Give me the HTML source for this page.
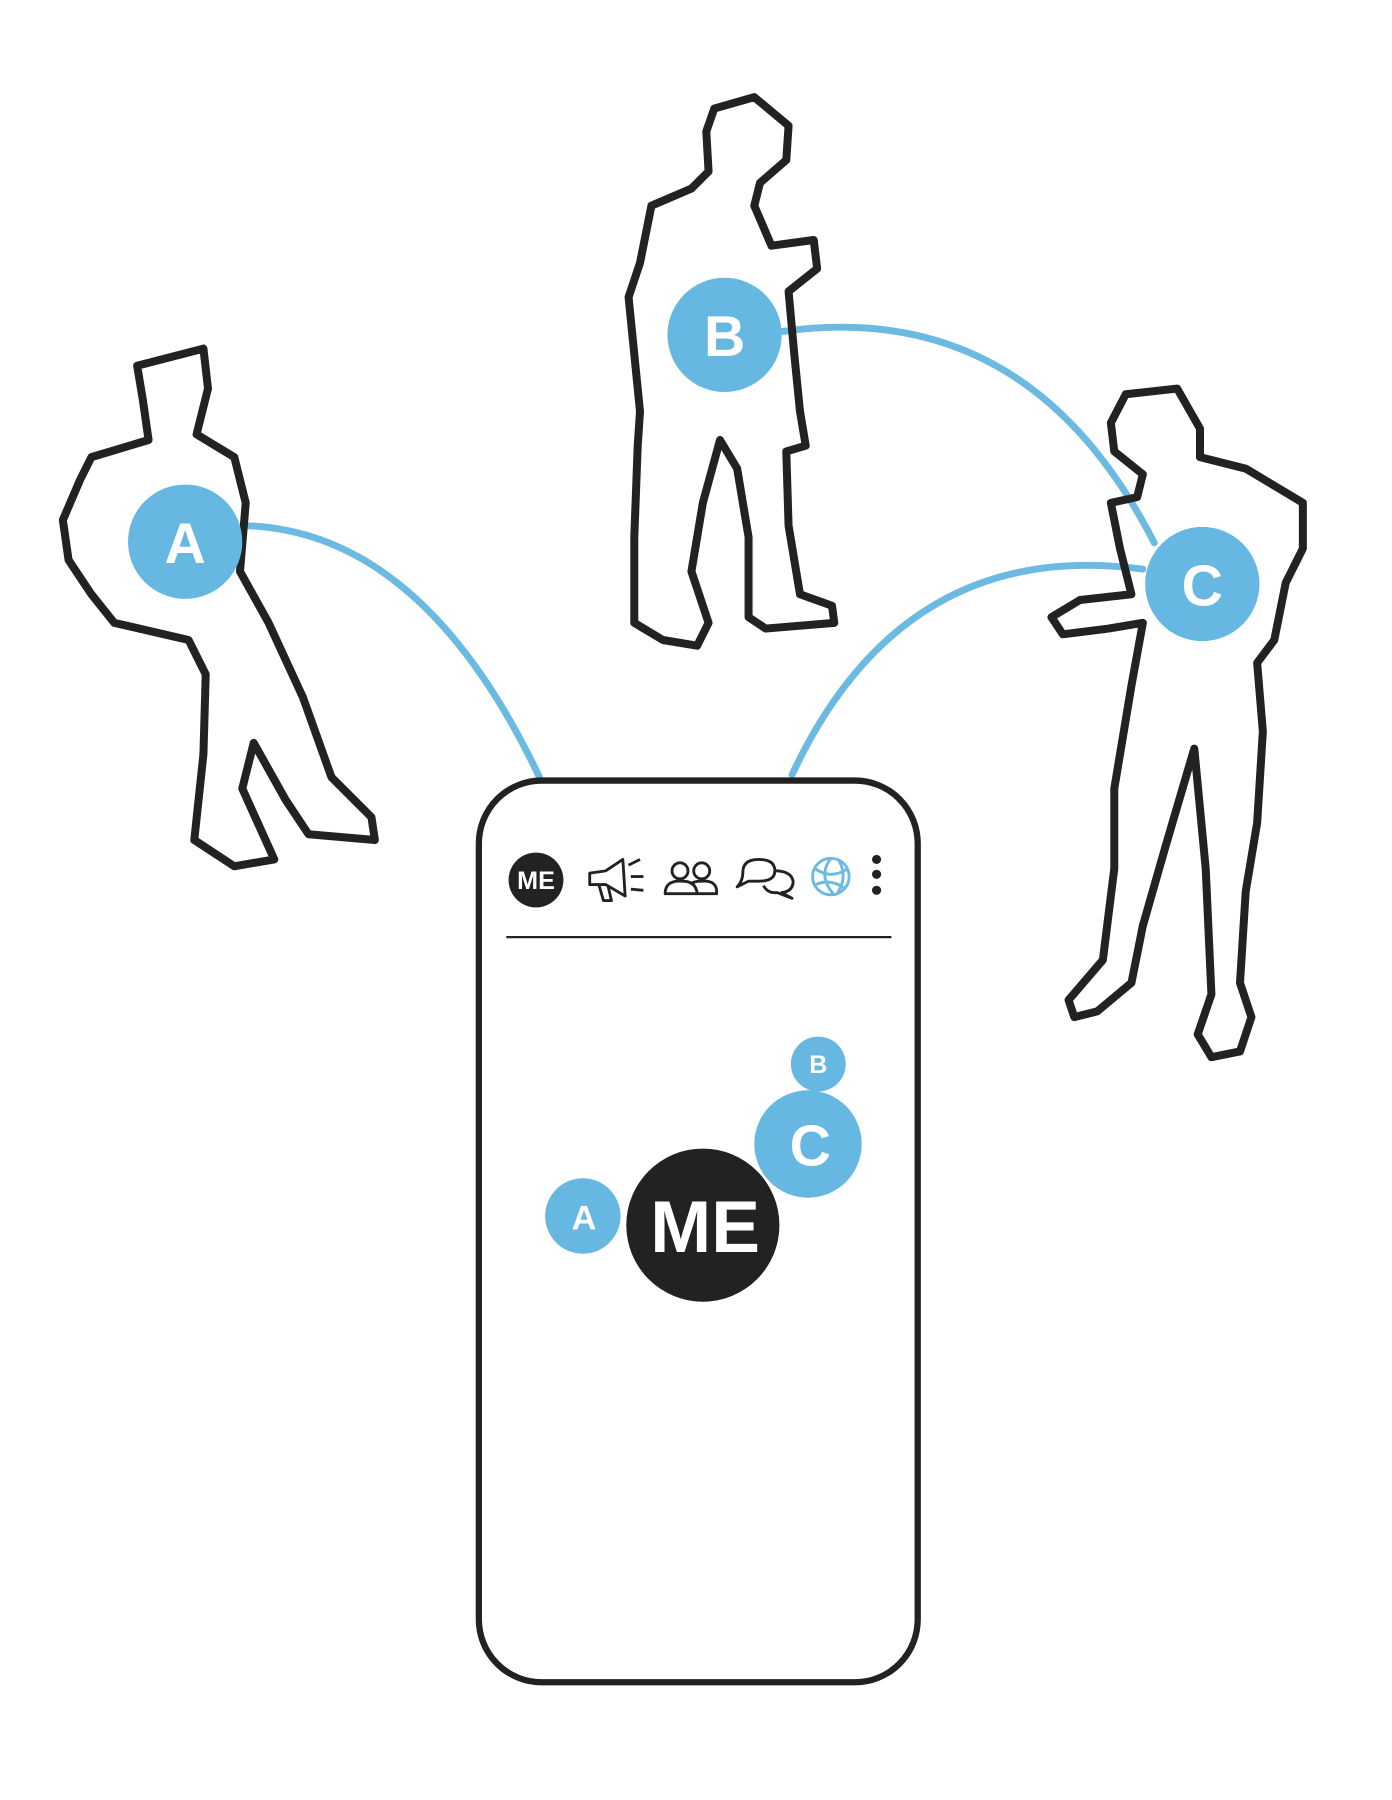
<!DOCTYPE html>
<html><head><meta charset="utf-8"><style>
html,body{margin:0;padding:0;background:#fff;}
svg{display:block}
text{font-family:"Liberation Sans",sans-serif;font-weight:bold;fill:#fff;text-anchor:middle;dominant-baseline:central}
</style></head><body>
<svg width="1392" height="1800" viewBox="0 0 1218 1575" xmlns="http://www.w3.org/2000/svg">
<g fill="none" stroke="#6cb9e2" stroke-width="6" stroke-linecap="round">
<path d="M215,460 Q370,465 472,680"/>
<path d="M685,290 Q900,260 1010,475"/>
<path d="M1000,498 Q790,470 693,678"/>
</g>
<g fill="none" stroke="#222" stroke-width="7" stroke-linejoin="round">
<path d="M120,320 L178,305 L182,340 L172,380 L205,400 L215,440 L210,500 L235,545 L265,610 L290,680 L325,715 L328,735 L270,730 L250,700 L222,650 L212,690 L240,752 L205,758 L170,735 L178,660 L180,590 L165,560 L100,545 L80,520 L60,490 L55,455 L70,420 L80,400 L130,385 L125,350 Z"/>
<path d="M625,95 L660,85 L690,110 L688,140 L665,160 L660,180 L675,215 L712,210 L715,235 L690,255 L695,310 L700,360 L705,390 L688,395 L690,460 L700,520 L728,530 L730,545 L670,550 L655,540 L655,470 L645,410 L630,385 L615,440 L605,500 L620,545 L610,565 L580,560 L555,545 L555,470 L558,390 L560,360 L555,310 L550,260 L560,230 L570,180 L605,165 L620,150 L618,115 Z"/>
<path d="M985,345 L1030,340 L1050,375 L1050,400 L1090,410 L1140,440 L1140,480 L1125,510 L1115,560 L1100,580 L1105,640 L1100,720 L1090,780 L1085,860 L1095,890 L1085,920 L1060,925 L1048,905 L1060,870 L1055,760 L1045,655 L1020,740 L1000,810 L990,860 L960,885 L940,890 L935,875 L965,840 L975,760 L975,690 L990,600 L1000,545 L970,550 L930,555 L920,540 L945,525 L990,520 L980,480 L972,440 L995,435 L1000,415 L975,395 L972,370 Z"/>
<rect x="419" y="683" width="384" height="789" rx="55" stroke-width="5.5"/>
</g>
<g fill="#66b8e2">
<circle cx="162" cy="474" r="50"/><circle cx="634" cy="293" r="50"/><circle cx="1052" cy="511" r="50"/>
<circle cx="716" cy="931" r="24"/><circle cx="707" cy="1001" r="47"/><circle cx="510" cy="1064" r="33"/>
</g>
<text x="162" y="476" font-size="50">A</text>
<text x="634" y="295" font-size="50">B</text>
<text x="1052" y="513" font-size="50">C</text>
<circle cx="615" cy="1072" r="67" fill="#222"/>
<text x="617" y="1074" font-size="64" textLength="96">ME</text>
<text x="716" y="932" font-size="22">B</text>
<text x="709" y="1003" font-size="50">C</text>
<text x="511" y="1066" font-size="30">A</text>
<circle cx="469" cy="770" r="24" fill="#222"/>
<text x="469" y="771" font-size="22">ME</text>
<g fill="none" stroke="#222" stroke-width="2.5" stroke-linejoin="round">
<path d="M516,764 L530,762 L545,752 L547,784 L530,774 L516,774 Z M524,774 L528,788 L535,788 L532,775"/>
<path d="M550,757 L560,752 M552,767 L563,767 M552,778 L563,779"/>
<circle cx="595" cy="762" r="7"/><circle cx="614" cy="762" r="7"/>
<path d="M582,782 Q582,770 597,771 Q609,771 610,782 Z M604,782 L627,782 Q628,770 614,771 Q606,771 604,774"/>
<path d="M650,763 Q650,752 664,752 Q678,752 678,762 Q678,771 664,771 L655,771 L645,776 Q650,771 650,763 Z"/>
<path d="M678,762 Q692,762 694,771 Q694,780 684,781 L693,786 L680,781 Q672,782 668,775"/>
</g>
<g fill="none" stroke="#6cb9e2" stroke-width="2.5">
<circle cx="727" cy="767" r="16"/>
<path d="M713,760 Q727,770 742,760 M714,774 Q727,768 740,778 M727,751 Q715,767 730,783 M734,753 Q742,767 733,781"/>
</g>
<g fill="#222"><circle cx="767" cy="752" r="4"/><circle cx="767" cy="765" r="4"/><circle cx="767" cy="779" r="4"/></g>
<line x1="443" y1="820" x2="780" y2="820" stroke="#222" stroke-width="2"/>
</svg>
</body></html>
